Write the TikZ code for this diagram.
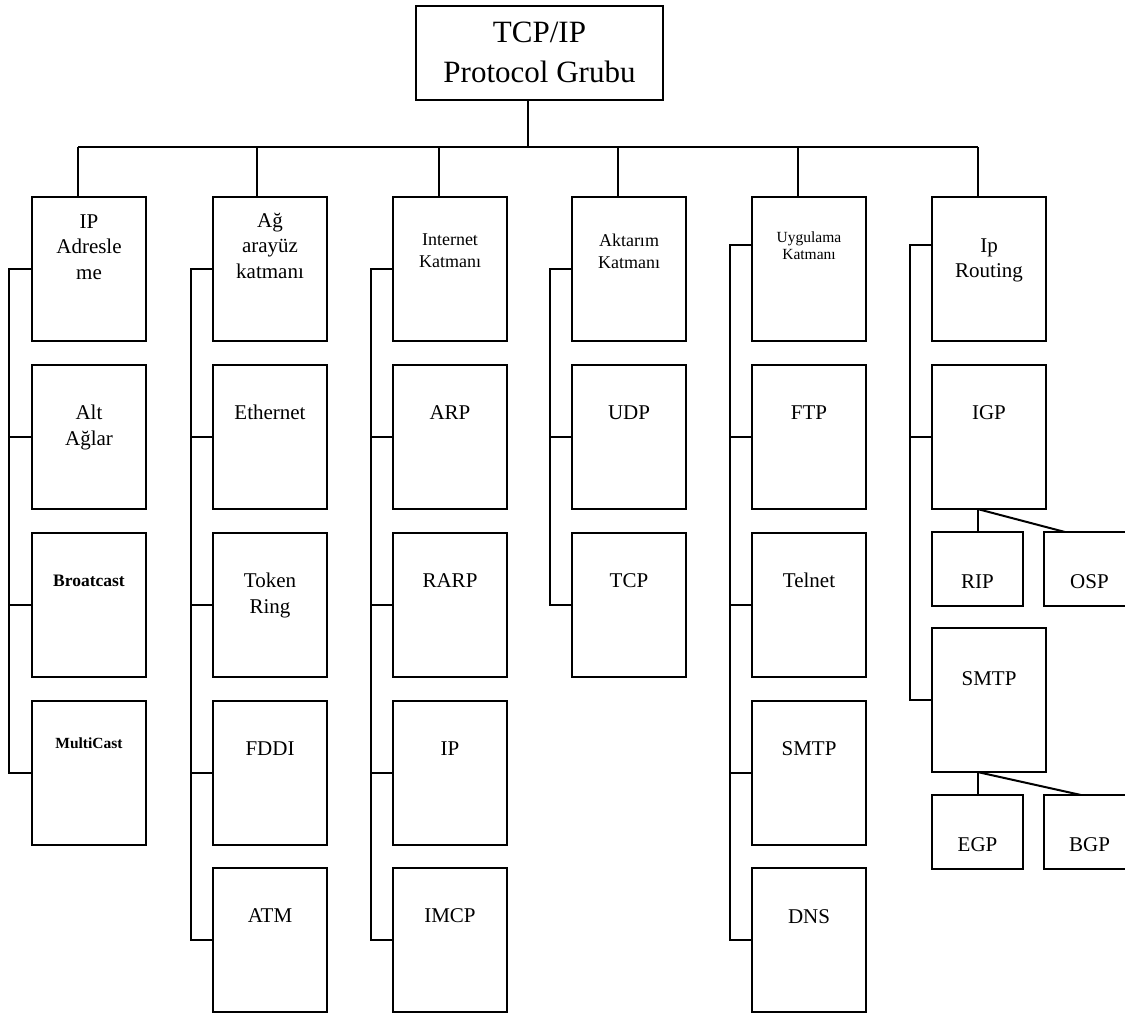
\documentclass[tikz,border=0pt]{standalone}
\usepackage{fontspec}
\setmainfont{Liberation Serif}
\begin{document}
\begin{tikzpicture}[x=1pt,y=-1pt,
  bx/.style={draw, line width=2.2pt, anchor=north west, inner sep=0pt, outer sep=0pt, minimum width=114, minimum height=144},
  sbx/.style={bx, minimum width=91, minimum height=74},
  ln/.style={line width=2pt},
  lab/.style={anchor=north, inner sep=0pt, outer sep=0pt, align=center, font=\fontsize{21}{25.5}\selectfont},
  labmid/.style={lab, font=\fontsize{18}{22}\selectfont},
  labsmall/.style={lab, font=\fontsize{15.5}{17}\selectfont},
  labbold/.style={lab, font=\bfseries\fontsize{17.5}{21}\selectfont},
  labboldsm/.style={lab, font=\bfseries\fontsize{15.5}{19}\selectfont},
  labbig/.style={lab, font=\fontsize{31}{40}\selectfont}
]
\useasboundingbox (0,0) rectangle (1125,1018);
\begin{scope}
\clip (0,0) rectangle (1125,1018);

% root
\node[bx, minimum width=247, minimum height=94] (top) at (416,6) {};
\node[labbig] (ttop) at ([yshift=-8pt]top.north) {\strut TCP/IP\\Protocol Grubu};

% column 1
\node[bx] (c1a) at (32,197) {};
\node[bx] (c1b) at (32,365) {};
\node[bx] (c1c) at (32,533) {};
\node[bx] (c1d) at (32,701) {};
\node[lab] (t1a) at ([yshift=-13.15pt]c1a.north) {\strut IP\\Adresle\\me};
\node[lab] (t1b) at ([yshift=-36.65pt]c1b.north) {\strut Alt\\Ağlar};
\node[labbold] (t1c) at ([yshift=-38.3pt]c1c.north) {\strut Broatcast};
\node[labboldsm] (t1d) at ([yshift=-33.7pt]c1d.north) {\strut MultiCast};

% column 2
\node[bx] (c2a) at (213,197) {};
\node[bx] (c2b) at (213,365) {};
\node[bx] (c2c) at (213,533) {};
\node[bx] (c2d) at (213,701) {};
\node[bx] (c2e) at (213,868) {};
\node[lab] (t2a) at ([yshift=-12.15pt]c2a.north) {\strut Ağ\\arayüz\\katmanı};
\node[lab] (t2b) at ([yshift=-36.65pt]c2b.north) {\strut Ethernet};
\node[lab] (t2c) at ([yshift=-36.65pt]c2c.north) {\strut Token\\Ring};
\node[lab] (t2d) at ([yshift=-36.65pt]c2d.north) {\strut FDDI};
\node[lab] (t2e) at ([yshift=-36.65pt]c2e.north) {\strut ATM};

% column 3
\node[bx] (c3a) at (393,197) {};
\node[bx] (c3b) at (393,365) {};
\node[bx] (c3c) at (393,533) {};
\node[bx] (c3d) at (393,701) {};
\node[bx] (c3e) at (393,868) {};
\node[labmid] (t3a) at ([yshift=-32.6pt]c3a.north) {\strut Internet\\Katmanı};
\node[lab] (t3b) at ([yshift=-36.65pt]c3b.north) {\strut ARP};
\node[lab] (t3c) at ([yshift=-36.65pt]c3c.north) {\strut RARP};
\node[lab] (t3d) at ([yshift=-36.65pt]c3d.north) {\strut IP};
\node[lab] (t3e) at ([yshift=-36.65pt]c3e.north) {\strut IMCP};

% column 4
\node[bx] (c4a) at (572,197) {};
\node[bx] (c4b) at (572,365) {};
\node[bx] (c4c) at (572,533) {};
\node[labmid] (t4a) at ([yshift=-33.6pt]c4a.north) {\strut Aktarım\\Katmanı};
\node[lab] (t4b) at ([yshift=-36.65pt]c4b.north) {\strut UDP};
\node[lab] (t4c) at ([yshift=-36.65pt]c4c.north) {\strut TCP};

% column 5
\node[bx] (c5a) at (752,197) {};
\node[bx] (c5b) at (752,365) {};
\node[bx] (c5c) at (752,533) {};
\node[bx] (c5d) at (752,701) {};
\node[bx] (c5e) at (752,868) {};
\node[labsmall] (t5a) at ([yshift=-33.1pt]c5a.north) {\strut Uygulama\\Katmanı};
\node[lab] (t5b) at ([yshift=-36.65pt]c5b.north) {\strut FTP};
\node[lab] (t5c) at ([yshift=-36.65pt]c5c.north) {\strut Telnet};
\node[lab] (t5d) at ([yshift=-36.65pt]c5d.north) {\strut SMTP};
\node[lab] (t5e) at ([yshift=-37.65pt]c5e.north) {\strut DNS};

% column 6
\node[bx] (c6a) at (932,197) {};
\node[bx] (c6b) at (932,365) {};
\node[sbx] (c6c) at (932,532) {};
\node[sbx] (c6d) at (1044,532) {};
\node[bx] (c6e) at (932,628) {};
\node[sbx] (c6f) at (932,795) {};
\node[sbx] (c6g) at (1044,795) {};
\node[lab] (t6a) at ([yshift=-37.15pt]c6a.north) {\strut Ip\\Routing};
\node[lab] (t6b) at ([yshift=-36.65pt]c6b.north) {\strut IGP};
\node[lab] (t6c) at ([yshift=-38.15pt]c6c.north) {\strut RIP};
\node[lab] (t6d) at ([yshift=-38.15pt]c6d.north) {\strut OSP};
\node[lab] (t6e) at ([yshift=-39.15pt]c6e.north) {\strut SMTP};
\node[lab] (t6f) at ([yshift=-38.15pt]c6f.north) {\strut EGP};
\node[lab] (t6g) at ([yshift=-38.15pt]c6g.north) {\strut BGP};

% bus and stems
\coordinate (s0) at (528,147);
\coordinate (s1) at (78,147);
\coordinate (s2) at (257,147);
\coordinate (s3) at (439,147);
\coordinate (s4) at (618,147);
\coordinate (s5) at (798,147);
\coordinate (s6) at (978,147);
\draw[ln] (s0 |- top.south) -- (s0);
\draw[ln] (s1) -- (s6);
\draw[ln] (s1) -- (s1 |- c1a.north);
\draw[ln] (s2) -- (s2 |- c2a.north);
\draw[ln] (s3) -- (s3 |- c3a.north);
\draw[ln] (s4) -- (s4 |- c4a.north);
\draw[ln] (s5) -- (s5 |- c5a.north);
\draw[ln] (s6) -- (s6 |- c6a.north);

% brackets
\draw[ln] (c1a.west) -- ++(-23,0) |- (c1d.west);
\draw[ln] (c1b.west) -- ++(-23,0);
\draw[ln] (c1c.west) -- ++(-23,0);

\draw[ln] (c2a.west) -- ++(-22,0) |- (c2e.west);
\draw[ln] (c2b.west) -- ++(-22,0);
\draw[ln] (c2c.west) -- ++(-22,0);
\draw[ln] (c2d.west) -- ++(-22,0);

\draw[ln] (c3a.west) -- ++(-22,0) |- (c3e.west);
\draw[ln] (c3b.west) -- ++(-22,0);
\draw[ln] (c3c.west) -- ++(-22,0);
\draw[ln] (c3d.west) -- ++(-22,0);

\draw[ln] (c4a.west) -- ++(-22,0) |- (c4c.west);
\draw[ln] (c4b.west) -- ++(-22,0);

\coordinate (j5) at ([yshift=24pt]c5a.west);
\draw[ln] (j5) -- ++(-22,0) |- (c5e.west);
\draw[ln] (c5b.west) -- ++(-22,0);
\draw[ln] (c5c.west) -- ++(-22,0);
\draw[ln] (c5d.west) -- ++(-22,0);

\coordinate (j6) at ([yshift=24pt]c6a.west);
\draw[ln] (j6) -- ++(-22,0) |- (c6e.west);
\draw[ln] (c6b.west) -- ++(-22,0);

% sub-branches
\coordinate (g1) at (c6c.north |- c6b.south);
\draw[ln] (g1) -- (c6c.north);
\draw[ln] (g1) -- ([xshift=21pt]c6d.north west);
\coordinate (g2) at (c6f.north |- c6e.south);
\draw[ln] (g2) -- (c6f.north);
\draw[ln] (g2) -- ([xshift=37pt]c6g.north west);
\end{scope}
\end{tikzpicture}
\end{document}
